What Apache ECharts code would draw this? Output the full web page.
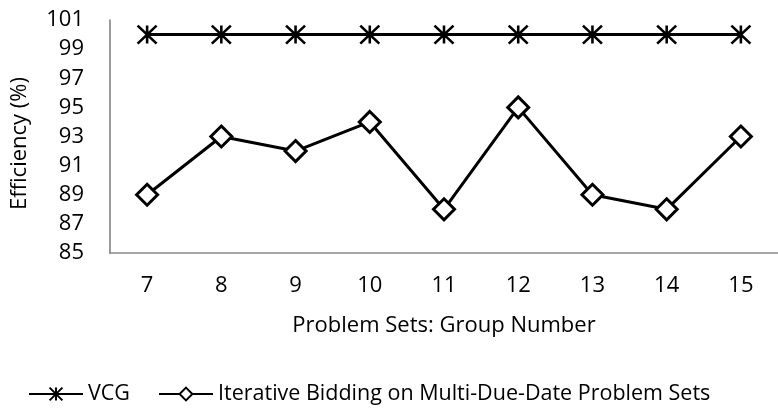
<!DOCTYPE html>
<html><head><meta charset="utf-8">
<script src="https://cdn.jsdelivr.net/npm/echarts@6/dist/echarts.min.js"></script>
<style>html,body{margin:0;padding:0;background:#fff}#c{width:778px;height:420px}</style>
</head><body><div id="c"></div>
<script>
var categories = ['7','8','9','10','11','12','13','14','15'];
var vcg = [100,100,100,100,100,100,100,100,100];
var iterative = [89,93,92,94,88,95,89,88,93];
var yTicks = [85,87,89,91,93,95,97,99,101];

var font = 'Open Sans, sans-serif';
var star = 'path://M5,0L5,10M0,0L10,10M0,10L10,0';
var chart = echarts.init(document.getElementById('c'), null, {renderer:'canvas'});
chart.setOption({
  animation:false,
  backgroundColor:'#fff',
  grid:{left:110, top:20, width:676, height:233},
  xAxis:{type:'category', data:categories, boundaryGap:true,
    name:'Problem Sets: Group Number', nameLocation:'middle', nameGap:62,
    nameTextStyle:{fontFamily:font, fontSize:22, color:'#000'},
    axisLine:{lineStyle:{color:'#8a8a8a', width:1.7}},
    axisTick:{show:false},
    axisLabel:{fontFamily:font, fontSize:22, color:'#000', margin:22}},
  yAxis:{type:'value', min:85, max:101, interval:2,
    name:'Efficiency (%)', nameLocation:'middle', nameGap:79, nameRotate:90,
    nameTextStyle:{fontFamily:font, fontSize:22, color:'#000', padding:[0,14,0,0]},
    axisLine:{show:true, lineStyle:{color:'#8a8a8a', width:1.7}},
    axisTick:{show:false}, splitLine:{show:false},
    axisLabel:{fontFamily:font, fontSize:22, color:'#000', margin:26,
      formatter:function(v){return yTicks.indexOf(v)>=0?String(v):'';}}},
  legend:{bottom:10, left:23, itemWidth:54, itemHeight:16, itemGap:28,
    textStyle:{fontFamily:font, fontSize:21.5, color:'#000'},
    data:['VCG','Iterative Bidding on Multi-Due-Date Problem Sets']},
  series:[
    {name:'VCG', type:'line', data:vcg, symbol:star, symbolSize:[19,18],
      lineStyle:{color:'#000', width:3},
      itemStyle:{color:'#000', borderColor:'#000', borderWidth:2.5}},
    {name:'Iterative Bidding on Multi-Due-Date Problem Sets', type:'line', data:iterative,
      symbol:'diamond', symbolSize:[21,21],
      lineStyle:{color:'#000', width:3},
      itemStyle:{color:'#fff', borderColor:'#000', borderWidth:3}}
  ]
});
</script></body></html>
